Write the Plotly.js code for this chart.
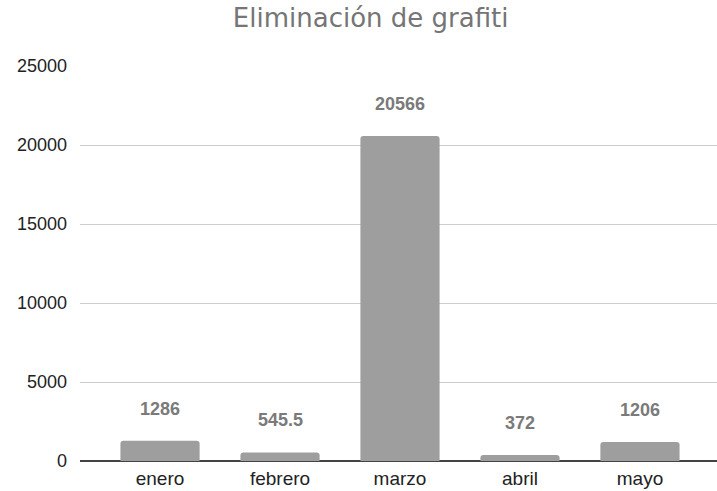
<!DOCTYPE html>
<html><head><meta charset="utf-8">
<script src="https://cdn.plot.ly/plotly-3.0.1.min.js"></script>
<style>html,body{margin:0;padding:0;background:#fff}#chart{width:717px;height:491px}</style>
</head><body><div id="chart"></div>
<script>
const categories = ["enero", "febrero", "marzo", "abril", "mayo"];
const values = [1286, 545.5, 20566, 372, 1206];
const labels = ["1286", "545.5", "20566", "372", "1206"];
const yTicks = [0, 5000, 10000, 15000, 20000, 25000];

const trace = {
  type: "bar",
  x: categories,
  y: values,
  width: 0.66,
  marker: {color: "#9e9e9e", cornerradius: 3},
  hoverinfo: "none"
};

const annotations = categories.map((c, i) => ({
  x: c, y: values[i], xref: "x", yref: "y",
  text: labels[i], showarrow: false, yshift: 32,
  font: {family: "Liberation Sans, Arial, sans-serif", size: 18, color: "#7a7a7a", weight: "bold"}
}));

const layout = {
  width: 717, height: 491,
  margin: {l: 80, r: 0, t: 66, b: 30},
  paper_bgcolor: "#fff", plot_bgcolor: "#fff",
  title: {text: "Eliminación de grafiti", x: 0.517, xanchor: "center", y: 0.963, yanchor: "middle",
    font: {family: "DejaVu Sans, sans-serif", size: 26, color: "#757575"}},
  showlegend: false,
  xaxis: {range: [-0.667, 4.642], showgrid: false, zeroline: false, showline: false, ticks: "",
    ticklabelstandoff: 4,
    tickfont: {family: "Liberation Sans, Arial, sans-serif", size: 19, color: "#222"}},
  yaxis: {range: [0, 25000], tickvals: yTicks, ticktext: yTicks.map(String), showgrid: true,
    gridcolor: "#cccccc", gridwidth: 1, zeroline: true, zerolinecolor: "#444", zerolinewidth: 2,
    showline: false, ticks: "", ticklabelstandoff: 12,
    tickfont: {family: "Liberation Sans, Arial, sans-serif", size: 18, color: "#222"}},
  annotations: annotations
};

Plotly.newPlot("chart", [trace], layout, {displayModeBar: false, staticPlot: true});
</script></body></html>
